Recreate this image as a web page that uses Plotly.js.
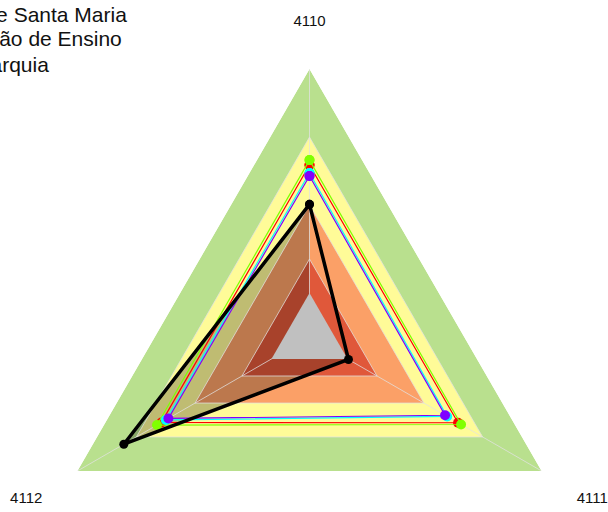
<!DOCTYPE html>
<html><head><meta charset="utf-8">
<script src="https://cdn.plot.ly/plotly-3.0.1.min.js"></script>
<style>html,body{margin:0;padding:0;overflow:hidden;background:#fff}</style>
</head><body>
<div id="chart" style="width:608px;height:620px"></div>
<script>
// ---- data ----
const categories = ['4110', '4111', '4112'];
const bandValues = [100, 74.6, 49.3, 29.1];     // outer bands
const centerValue = 16.4;                        // grey core
const seriesRed    = [64.2, 64.0, 63.8];
const seriesGreen  = [66.0, 65.3, 65.7];
const seriesCyan   = [61.2, 59.3, 61.9];
const seriesPurple = [60.1, 58.4, 60.8];
const seriesBlack  = [49.5, 16.8, 80.0];
const titleLines = ['Universidade Federal de Santa Maria', 'Instituição de Ensino', 'Autarquia'];

// ---- styles ----
const bandColors = ['#B9E08E', '#FFFB98', '#FBA067', '#E0583A'];
const centerColor = '#C0C0C0';
const seriesColors = ['#FF0000', '#80FF00', '#00FFFF', '#8000FF'];

const W = 608, H = 620;
const closeR = a => a.concat([a[0]]);
const closeT = closeR(categories);
const traces = [];

bandValues.forEach((v, i) => {
  traces.push({type: 'scatterpolar', mode: 'lines', r: categories.map(() => v), theta: categories,
    fill: 'toself', fillcolor: bandColors[i], line: {width: 0, color: bandColors[i]},
    hoverinfo: 'skip', showlegend: false});
});

// translucent area of the black series
traces.push({type: 'scatterpolar', mode: 'lines',
  r: [seriesBlack[0], 0, seriesBlack[1], seriesBlack[2]],
  theta: [categories[0], categories[0], categories[1], categories[2]],
  fill: 'toself', fillcolor: 'rgba(0,0,0,0.25)', line: {width: 0, color: 'rgba(0,0,0,0)'},
  hoverinfo: 'skip', showlegend: false});

// grid lines above fills
const gridColor = 'rgba(225,225,225,0.75)';
bandValues.slice(1).forEach(v => {
  traces.push({type: 'scatterpolar', mode: 'lines', r: closeT.map(() => v), theta: closeT,
    line: {width: 1, color: gridColor}, hoverinfo: 'skip', showlegend: false});
});
categories.forEach(c => {
  traces.push({type: 'scatterpolar', mode: 'lines', r: [0, bandValues[0]], theta: [c, c],
    line: {width: 1, color: gridColor}, hoverinfo: 'skip', showlegend: false});
});

traces.push({type: 'scatterpolar', mode: 'lines', r: categories.map(() => centerValue), theta: categories,
  fill: 'toself', fillcolor: centerColor, line: {width: 0, color: centerColor},
  hoverinfo: 'skip', showlegend: false});

[seriesRed, seriesGreen, seriesCyan, seriesPurple].forEach((s, i) => {
  traces.push({type: 'scatterpolar', mode: 'lines+markers', r: closeR(s), theta: closeT,
    line: {width: 1.2, color: seriesColors[i]}, marker: {size: 10, color: seriesColors[i]},
    hoverinfo: 'skip', showlegend: false});
});
traces.push({type: 'scatterpolar', mode: 'lines+markers', r: closeR(seriesBlack), theta: closeT,
  line: {width: 3.5, color: '#000'}, marker: {size: 9, color: '#000'},
  hoverinfo: 'skip', showlegend: false});

const annX = [129, 124, 51];
const annY = [14, 39, 64];
const annotations = titleLines.map((t, i) => ({
  text: t, xref: 'paper', yref: 'paper', x: annX[i] / W, y: 1 - annY[i] / H,
  xanchor: 'right', yanchor: 'middle', showarrow: false,
  font: {size: 21, color: '#111', family: 'Liberation Sans, Arial, sans-serif'}
}));

const layout = {
  width: W, height: H,
  margin: {l: 0, r: 0, t: 0, b: 0},
  paper_bgcolor: '#fff',
  showlegend: false,
  font: {family: 'Liberation Sans, Arial, sans-serif'},
  annotations: annotations,
  polar: {
    domain: {x: [41.5 / W, 577.5 / W], y: [1 - 605 / H, 1 - 69 / H]},
    bgcolor: 'rgba(0,0,0,0)',
    gridshape: 'linear',
    radialaxis: {range: [0, 100], showgrid: false, showline: false, showticklabels: false, ticks: ''},
    angularaxis: {type: 'category', categoryarray: categories, direction: 'clockwise', rotation: 90,
      showgrid: false, showline: false, ticks: 'outside', ticklen: 37, tickcolor: 'rgba(0,0,0,0)',
      tickfont: {size: 15, color: '#111'}}
  }
};

Plotly.newPlot('chart', traces, layout, {displayModeBar: false, staticPlot: true});
</script>
</body></html>
